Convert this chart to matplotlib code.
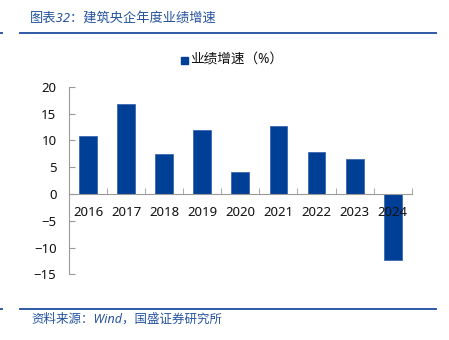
import matplotlib
matplotlib.use("Agg")
import matplotlib.pyplot as plt
from matplotlib.lines import Line2D
from matplotlib.patches import Rectangle

plt.rcParams['font.family'] = ['Noto Sans', 'Noto Sans CJK SC', 'DejaVu Sans']

years = ['2016', '2017', '2018', '2019', '2020', '2021', '2022', '2023', '2024']
growth = [10.8, 16.7, 7.5, 12.0, 4.0, 12.7, 7.8, 6.5, -12.3]
y_ticks = [20, 15, 10, 5, 0, -5, -10, -15]

title = '图表32：建筑央企年度业绩增速'
legend_label = '业绩增速（%）'
source = '资料来源：Wind，国盛证券研究所'

bar_color = '#003F96'
line_color = '#2F5AA6'
axis_color = '#9A9A9A'

fig = plt.figure(figsize=(4.49, 3.40), dpi=100)
ax = fig.add_axes([0.1537, 0.193, 0.9170 - 0.1537, 0.552])

x = list(range(len(years)))
ax.bar(x, growth, width=0.47, color=bar_color, edgecolor='#3E68B0',
       linewidth=0.6, zorder=2)
ax.set_axisbelow(False)

ax.set_xlim(-0.5, len(years) - 0.5)
ax.set_ylim(-15, 20)
ax.set_yticks(y_ticks)
ax.tick_params(axis='y', direction='in', length=4, color=axis_color,
               labelsize=9.5, pad=9, labelcolor='#111111')

for s in ['top', 'right']:
    ax.spines[s].set_visible(False)
ax.spines['left'].set_color(axis_color)
ax.spines['bottom'].set_color(axis_color)
ax.spines['bottom'].set_position(('data', 0))

ax.set_xticks(x)
ax.set_xticklabels(years)
ax.set_xticks([i + 0.5 for i in range(-1, len(years))], minor=True)
ax.tick_params(axis='x', which='major', length=0, labelsize=9.5, pad=9,
               labelcolor='#111111')
ax.tick_params(axis='x', which='minor', direction='in', length=4,
               color=axis_color)

# legend
fig.add_artist(Rectangle((0.404, 0.813), 0.0156, 0.0206, transform=fig.transFigure,
                         color=bar_color))
fig.text(0.424, 0.824, legend_label, fontsize=9.8, va='center', ha='left',
         color='#111111')

# header and footer
fig.text(0.066, 0.947, title, fontsize=9.5, color='#2553A0', va='center',
         ha='left', style='italic')
fig.add_artist(Line2D([0.0445, 0.971], [0.903, 0.903], transform=fig.transFigure,
                      color=line_color, linewidth=1.4))
fig.add_artist(Line2D([0.0, 0.004], [0.903, 0.903], transform=fig.transFigure,
                      color=line_color, linewidth=1.4))
fig.add_artist(Line2D([0.0445, 0.971], [0.091, 0.091], transform=fig.transFigure,
                      color=line_color, linewidth=1.4))
fig.add_artist(Line2D([0.0, 0.004], [0.091, 0.091], transform=fig.transFigure,
                      color=line_color, linewidth=1.4))
fig.text(0.070, 0.060, source, fontsize=9, color='#2553A0', va='center',
         ha='left', style='italic')

fig.savefig('out.png', dpi=100)
